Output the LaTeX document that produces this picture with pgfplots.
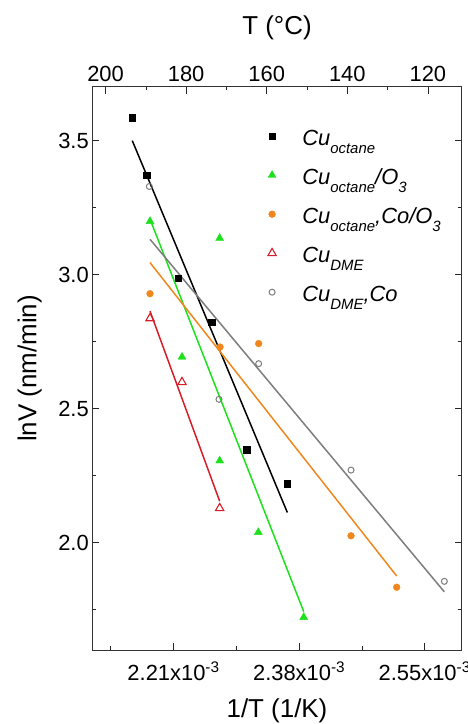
\documentclass[border=0pt]{standalone}
\usepackage{fontspec}
\setmainfont{Liberation Sans}
\usepackage{pgfplots}
\pgfplotsset{compat=1.18}
\usetikzlibrary{calc}

\definecolor{lime}{RGB}{30,225,30}
\definecolor{orng}{RGB}{240,135,30}
\definecolor{redm}{RGB}{215,30,40}
\definecolor{grey}{RGB}{125,125,125}

% lowered subscript, like the original legend
\newcommand{\sub}[1]{\raisebox{-8.5bp}{\fontsize{15}{15}\selectfont #1}}

\begin{document}
\begin{tikzpicture}
\pgfplotsset{
  base/.style={
    scale only axis, width=369.4bp, height=563bp,
    tick align=inside,
    major tick length=7bp, minor tick length=3.5bp,
    tick style={black!85, line width=0.7bp},
    axis line style={black!80, line width=1bp},
    ticklabel style={font=\fontsize{22}{22}\selectfont},
    /pgf/number format/assume math mode=true,
  }
}
\begin{axis}[base, name=ax,
  xmin=2.1e-3, xmax=2.6e-3, ymin=1.6, ymax=3.7,
  xtick={2.21e-3,2.38e-3,2.55e-3},
  xticklabels={2.21x10\textsuperscript{-3},2.38x10\textsuperscript{-3},2.55x10\textsuperscript{-3}},
  minor xtick={2.125e-3,2.295e-3,2.465e-3},
  scaled x ticks=false,
  xtick pos=bottom,
  x tick label style={anchor=base, yshift=-30bp},
  ytick={2.0,2.5,3.0,3.5}, minor ytick={1.75,2.25,2.75,3.25},
  ytick pos=both,
  y tick label style={/pgf/number format/fixed, /pgf/number format/precision=1, /pgf/number format/fixed zerofill},
  xlabel={1/T (1/K)}, ylabel={lnV (nm/min)},
  xlabel style={at={(rel axis cs:0.5,0)}, anchor=base, yshift=-67bp, font=\fontsize{26}{26}\selectfont},
  ylabel style={at={($(rel axis cs:0,0.5)+(-55.8bp,0)$)}, rotate=0, anchor=base, font=\fontsize{26}{26}\selectfont},
  legend cell align=left,
  legend image code/.code={\path (0bp,0bp) (34bp,0bp); \draw[#1] plot coordinates {(4bp,5.5bp)};},
  legend style={at={(0.4748,0.9254)}, anchor=north west, draw=none, fill=none,
    inner sep=0pt, row sep=14bp,
    nodes={inner sep=0pt, text height=16bp, text depth=9bp},
    font=\fontsize{22}{22}\selectfont\itshape},
]
% fitted lines
\addplot[black, line width=1.5bp, forget plot] coordinates {(2.1541e-3,3.500) (2.3640e-3,2.113)};
\addplot[lime, line width=1.5bp, forget plot] coordinates {(2.1781e-3,3.207) (2.3862e-3,1.743)};
\addplot[orng, line width=1.5bp, forget plot] coordinates {(2.1781e-3,3.045) (2.5120e-3,1.876)};
\addplot[redm, line width=1.5bp, forget plot] coordinates {(2.1781e-3,2.864) (2.2724e-3,2.155)};
\addplot[grey, line width=1.5bp, forget plot] coordinates {(2.1781e-3,3.132) (2.5765e-3,1.817)};

% measured points
\addplot[only marks, mark=square*, mark size=3.2bp, black] coordinates {
  (2.1541e-3,3.586) (2.1736e-3,3.372) (2.2164e-3,2.986)
  (2.2616e-3,2.823) (2.3090e-3,2.347) (2.3635e-3,2.220)};
\addlegendentry{Cu\sub{octane}}
\addplot[only marks, mark=triangle*, mark size=4.6bp, lime] coordinates {
  (2.1781e-3,3.199) (2.2214e-3,2.693) (2.2724e-3,3.136)
  (2.2724e-3,2.306) (2.3247e-3,2.039) (2.3862e-3,1.722)};
\addlegendentry{Cu\sub{octane}/O\sub{3}}
\addplot[only marks, mark=*, mark size=3.4bp, orng] coordinates {
  (2.1781e-3,2.929) (2.2729e-3,2.730) (2.3252e-3,2.743)
  (2.4502e-3,2.026) (2.5120e-3,1.834)};
\addlegendentry{Cu\sub{octane},Co/O\sub{3}}
\addplot[only marks, mark=triangle, mark size=4.8bp, redm, mark options={line width=1.1bp}] coordinates {
  (2.1781e-3,2.837) (2.2214e-3,2.599) (2.2724e-3,2.129)};
\addlegendentry{Cu\sub{DME}}
\addplot[only marks, mark=o, mark size=3bp, grey, mark options={line width=1bp}] coordinates {
  (2.1772e-3,3.329) (2.2715e-3,2.535) (2.3252e-3,2.668)
  (2.4502e-3,2.271) (2.5765e-3,1.856)};
\addlegendentry{Cu\sub{DME},Co}
\end{axis}

% temperature scale on top
\begin{axis}[base, at={(ax.south west)}, anchor=south west,
  xmin=111.6, xmax=203.3, x dir=reverse,
  ymin=0, ymax=1, hide y axis,
  axis x line*=top,
  xtick={120,140,160,180,200}, minor xtick={130,150,170,190},
  x tick label style={anchor=base, yshift=5.3bp},
  xlabel={T (°C)},
  xlabel style={at={(rel axis cs:0.5,1)}, anchor=base, yshift=52bp, font=\fontsize{26}{26}\selectfont},
]
\end{axis}

\pgfresetboundingbox
\useasboundingbox ($(ax.south west)+(-92.3bp,-74bp)$) rectangle ($(ax.north east)+(6.3bp,87bp)$);
\end{tikzpicture}
\end{document}
